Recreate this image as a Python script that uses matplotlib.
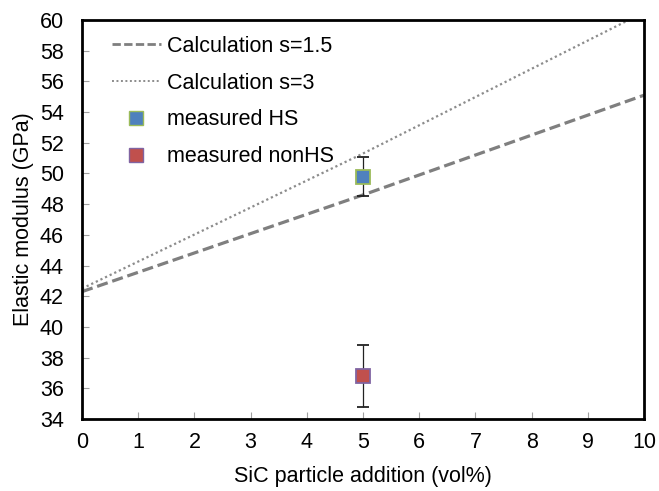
import matplotlib.pyplot as plt
from matplotlib.lines import Line2D

plt.rcParams['font.family'] = ['Liberation Sans', 'DejaVu Sans']

calc_x = [0, 5, 10]
calc_s15 = [42.3, 48.6, 55.1]
calc_s3 = [42.5, 51.3, 60.5]

meas_x = [5]
hs_y = [49.8]
hs_err = [1.3]
nonhs_y = [36.8]
nonhs_err = [2.0]

fs = 15.5
fig = plt.figure(figsize=(6.59, 4.91), dpi=100)
ax = fig.add_axes([82/659, 1 - 419/491, (644-82)/659, (419-20)/491])

ax.plot(calc_x, calc_s15, color='#7f7f7f', lw=2.3, ls=(0, (3.5, 1.5)))
ax.plot(calc_x, calc_s3, color='#8c8c8c', lw=1.6, ls=(0, (1, 1.3)))

ax.errorbar(meas_x, hs_y, yerr=hs_err, fmt='s', ms=10, mfc='#4f81bd', mec='#9bbb59', mew=1.3,
            ecolor='#222222', elinewidth=0.9, capsize=4.5, capthick=0.9)
ax.errorbar(meas_x, nonhs_y, yerr=nonhs_err, fmt='s', ms=10, mfc='#c0504d', mec='#8064a2', mew=1.3,
            ecolor='#222222', elinewidth=0.9, capsize=4.5, capthick=0.9)

ax.set_xlim(0, 10)
ax.set_ylim(34, 60)
ax.set_xticks(range(0, 11))
ax.set_yticks(range(34, 61, 2))
ax.tick_params(direction='in', length=5, color='#a0a0a0', labelsize=fs)
ax.tick_params(axis='x', pad=9)
ax.tick_params(axis='y', pad=13)
for s in ax.spines.values():
    s.set_linewidth(2)
ax.set_xlabel('SiC particle addition (vol%)', fontsize=fs, labelpad=10)
ax.set_ylabel('Elastic modulus (GPa)', fontsize=fs, labelpad=4)

handles = [
    Line2D([], [], color='#7f7f7f', lw=2.0, ls=(0, (3, 1.2))),
    Line2D([], [], color='#8c8c8c', lw=1.4, ls=(0, (1, 1.3))),
    Line2D([], [], ls='none', marker='s', ms=10, mfc='#4f81bd', mec='#9bbb59', mew=1),
    Line2D([], [], ls='none', marker='s', ms=10, mfc='#c0504d', mec='#8064a2', mew=1),
]
labels = ['Calculation s=1.5', 'Calculation s=3', 'measured HS', 'measured nonHS']
ax.legend(handles, labels, loc='upper left', frameon=False, fontsize=fs,
          labelspacing=0.74, handlelength=2.3, handletextpad=0.25,
          borderaxespad=0, bbox_to_anchor=(21/562, 1 - 7/399))

fig.savefig('out.png', dpi=100)
